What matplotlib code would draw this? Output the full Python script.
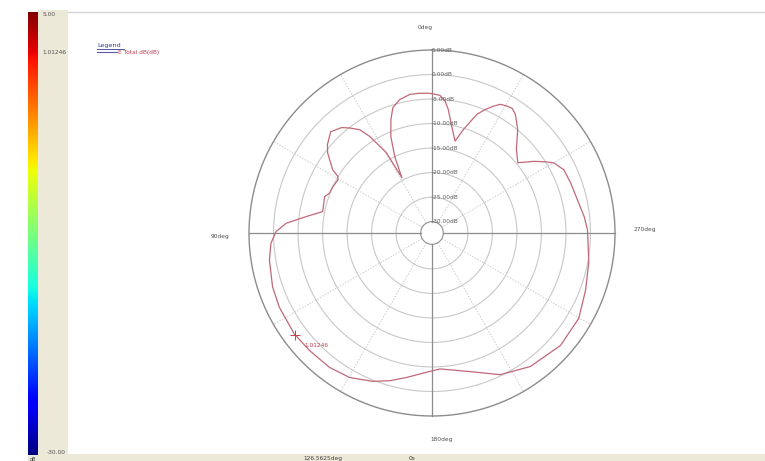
import numpy as np
import matplotlib
matplotlib.use("Agg")
import matplotlib.pyplot as plt
from matplotlib.patches import Rectangle

# ---------------- data ----------------
angle_deg = [0, 1.5, 5.6, 9.1, 13.5, 17.3, 19.9, 23.1, 26.0, 28.6, 29.6, 32.8, 35.0, 38.1, 40.6,
             45.0, 49.8, 52.5, 57.5, 59.0, 60.5, 64.9, 68.7, 71.3, 78.9, 82.6, 86.2, 89.5, 93.7,
             99.5, 108.7, 115.9, 126.2, 133.8, 142.7, 150.3, 158.3, 164.1, 170.0, 177.8, 183.4,
             195.4, 205.7, 216.4, 228.8, 239.8, 249.6, 259.5, 271.1, 276.1, 282.8, 289.8,
             295.6, 299.9, 302.1, 305.1, 309.3, 314.7, 320.4, 324.9, 327.2, 329.4, 332.0, 334.1,
             336.7, 339.3, 343.1, 345.9, 349.5, 352.5, 354.3, 356.7, 360]
gain_db = [-3.9, -3.8, -3.7, -3.7, -4.3, -5.5, -7.7, -10.9, -15.0, -19.5, -13.5, -8.9, -6.6, -5.1,
           -4.0, -3.1, -4.4, -5.5, -8.3, -9.9, -10.3, -10.0, -9.9, -9.2, -9.6, -6.4, -2.5, -0.5,
           0.6, 1.3, 2.0, 2.3, 2.5, 2.3, 2.15, 1.6, 0.25, -1.0, -2.4, -3.9, -4.55,
           -3.0, -0.25, 1.5, 2.5, 2.3, 1.1, 0.2, -0.6, -1.1, -1.9, -2.25,
           -2.5, -3.65, -5.0, -6.9, -9.7, -8.1, -4.9, -2.75, -2.1, -2.25, -2.6, -3.55,
           -4.9, -6.45, -10.25, -13.0, -10.2, -6.9, -5.3, -4.2, -3.9]
ring_values = [5, 0, -5, -10, -15, -20, -25, -30]
ring_labels = ["5.00dB", "0.00dB", "-5.00dB", "-10.00dB", "-15.00dB", "-20.00dB", "-25.00dB", "-30.00dB"]
marker_angle = 126.5625
marker_text = "1.01246"
cbar_labels = ["5.00", "1.01246", "-30.00"]
series_name = "E Total dB(dB)"

W, H = 765, 461
fig = plt.figure(figsize=(W / 100, H / 100), dpi=100)
fig.patch.set_facecolor("white")

def fx(x):
    return x / W

def fy(y):
    return 1 - y / H

beige = "#ece9d8"
fig.patches.append(Rectangle((fx(38), 0), fx(68) - fx(38), fy(10), transform=fig.transFigure,
                             facecolor=beige, edgecolor="none", zorder=-10))
fig.patches.append(Rectangle((fx(28), 0), 1 - fx(28), fy(454), transform=fig.transFigure,
                             facecolor=beige, edgecolor="none", zorder=-10))
fig.add_artist(plt.Line2D([fx(68), 1], [fy(12), fy(12)], transform=fig.transFigure,
                          color="#d4d4d4", lw=1.0))

# colour bar
cax = fig.add_axes([fx(28), fy(455), fx(38) - fx(28), fy(12) - fy(455)])
grad = np.linspace(1, 0, 256).reshape(-1, 1)
cax.imshow(grad, aspect="auto", cmap="jet", extent=[0, 1, 0, 1])
cax.set_axis_off()
fig.text(fx(43), fy(15), cbar_labels[0], fontsize=4.2, color="#505050", va="center", ha="left")
fig.text(fx(42), fy(52), cbar_labels[1], fontsize=4.2, color="#505050", va="center", ha="left")
fig.text(fx(47), fy(452), cbar_labels[2], fontsize=4.2, color="#505050", va="center", ha="left")
fig.text(fx(33), fy(459), "dB", fontsize=3.5, color="#404040", va="center", ha="center")

# bottom status texts
fig.text(fx(323), fy(458.5), "126.5625deg", fontsize=4.2, color="#404040", va="center", ha="center")
fig.text(fx(412), fy(458.5), "0s", fontsize=4.2, color="#404040", va="center", ha="center")

# legend
fig.text(fx(97), fy(45.5), "Legend", fontsize=4.6, color="#3a3a9a", va="center", ha="left")
fig.add_artist(plt.Line2D([fx(97), fx(124)], [fy(49), fy(49)], transform=fig.transFigure,
                          color="#3a3a9a", lw=0.6))
fig.add_artist(plt.Line2D([fx(97), fx(117)], [fy(52.5), fy(52.5)], transform=fig.transFigure,
                          color="#5a5aa8", lw=0.8))
fig.text(fx(118), fy(52.5), series_name, fontsize=4.2, color="#c04050", va="center", ha="left")

# polar axes
cx, cy, R = 432, 233, 183
ax = fig.add_axes([fx(cx - R), fy(cy + R), (2 * R) / W, (2 * R) / H], projection="polar")
ax.set_theta_zero_location("N")
ax.set_theta_direction(1)
rmin, rmax = -30, 5
px_per_db = 4.88
inner_px = 11.3
ax.set_rlim(rmin, rmax)
ax.set_rorigin(rmin - inner_px / px_per_db)
ax.grid(False)
ax.set_xticks([])
ax.set_yticks([])
ax.axis("off")

th = np.linspace(0, 2 * np.pi, 721)
for v in ring_values:
    if v == rmax:
        ax.plot(th, np.full_like(th, v), color="#8c8c8c", lw=1.0, zorder=2, clip_on=False)
    elif v == rmin:
        ax.plot(th, np.full_like(th, v), color="#909090", lw=0.8, zorder=2, clip_on=False)
    else:
        ax.plot(th, np.full_like(th, v), color="#c8c8c8", lw=0.8, zorder=1, clip_on=False)

for a in range(0, 360, 30):
    t = np.deg2rad(a)
    if a % 90 == 0:
        ax.plot([t, t], [rmin, rmax], color="#8c8c8c", lw=0.9, zorder=2, clip_on=False)
    else:
        ax.plot([t, t], [rmin, rmax], color="#cccccc", lw=0.7, ls=(0, (1.5, 1.5)), zorder=1,
                clip_on=False)

for v, lab in zip(ring_values, ring_labels):
    ax.text(0, v, lab, fontsize=4.2, color="#606060", ha="left", va="center",
            transform=ax.transData, zorder=4)

fig.text(fx(425), fy(27), "0deg", fontsize=4.2, color="#505050", ha="center", va="center")
fig.text(fx(220), fy(236), "90deg", fontsize=4.2, color="#505050", ha="center", va="center")
fig.text(fx(645), fy(229), "270deg", fontsize=4.2, color="#505050", ha="center", va="center")
fig.text(fx(442), fy(439), "180deg", fontsize=4.2, color="#505050", ha="center", va="center")

ax.plot(np.deg2rad(angle_deg), gain_db, color="#c06878", lw=0.9, zorder=3, clip_on=False)

mv = np.interp(marker_angle, angle_deg, gain_db)
ax.plot([np.deg2rad(marker_angle)], [mv], marker="+", ms=7, mew=0.7, color="#c04050", zorder=5,
        clip_on=False)
ax.annotate(marker_text, xy=(np.deg2rad(marker_angle), mv), xytext=(7, -7.5),
            textcoords="offset points", fontsize=4.2, color="#c04050", ha="left", va="center")

fig.savefig("out.png", dpi=100)
